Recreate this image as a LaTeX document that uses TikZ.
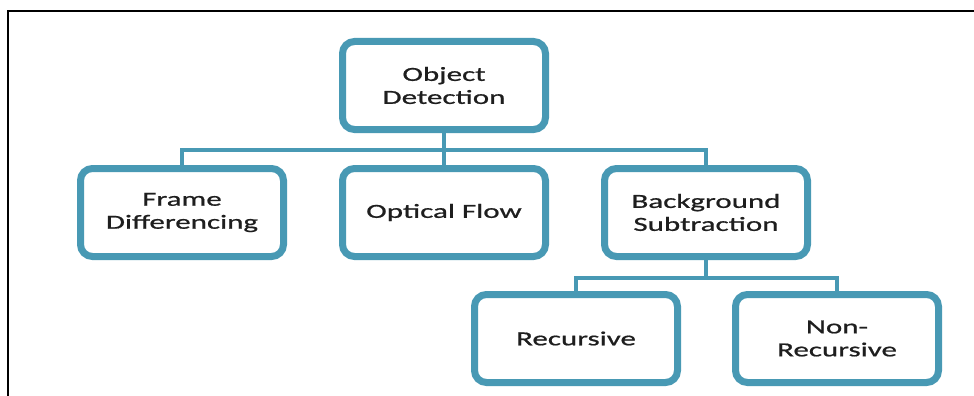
\documentclass[tikz,border=0pt]{standalone}
\usepackage{fontspec}
\setmainfont{Carlito}[FakeStretch=1.55, FakeBold=0.8]
\usetikzlibrary{shadows}
\definecolor{teal}{RGB}{72,153,180}
\definecolor{ink}{RGB}{30,30,30}
\begin{document}
\begin{tikzpicture}[x=1pt,y=-1pt,
  box/.style={draw=teal, line width=7pt, rounded corners=12pt, fill=white,
    minimum width=203pt, minimum height=88pt, align=center, text=ink,
    font=\fontsize{20}{23}\selectfont,
    drop shadow={shadow xshift=1pt, shadow yshift=-3pt, opacity=0.25}},
  ghost/.style={box, draw=none, fill=none, drop shadow={opacity=0}},
  link/.style={draw=teal, line width=4.5pt}]
\useasboundingbox (0,0) rectangle (974,396);
\fill[white] (0,0) rectangle (974,396);
% outer frame: top and left edges only
\coordinate (ftr) at (974,11);
\coordinate (ftl) at (8,11);
\coordinate (fbl) at (8,396);
\draw[line width=1.8pt] (ftr) -- (ftl) -- (fbl);

% level-1 and level-2 bus heights
\coordinate (bus1) at (0,150);
\coordinate (bus2) at (0,278);

% placeholders so connectors can be drawn below the boxes
\node[ghost] (od0) at (444,85.5) {};
\node[ghost] (fd0) at (182,212.5) {};
\node[ghost] (of0) at (444,212.5) {};
\node[ghost] (bs0) at (706,212.5) {};
\node[ghost] (r0) at (576,338.5) {};
\node[ghost] (nr0) at (837,338.5) {};

\draw[link] (od0.south) -- (of0.north);
\draw[link] (fd0.north) -- (fd0.north |- bus1) -- (bs0.north |- bus1) -- (bs0.north);
\draw[link] (bs0.south) -- (bs0.south |- bus2);
\draw[link] (r0.north) -- (r0.north |- bus2) -- (nr0.north |- bus2) -- (nr0.north);

\node[box] (od) at (od0) {Object\\Detection};
\node[box] (fd) at (fd0) {Frame\\Differencing};
\node[box] (of) at (of0) {Optical Flow};
\node[box] (bs) at (bs0) {Background\\Subtraction};
\node[box] (r) at (r0) {Recursive};
\node[box] (nr) at (nr0) {Non-\\Recursive};
\end{tikzpicture}
\end{document}
